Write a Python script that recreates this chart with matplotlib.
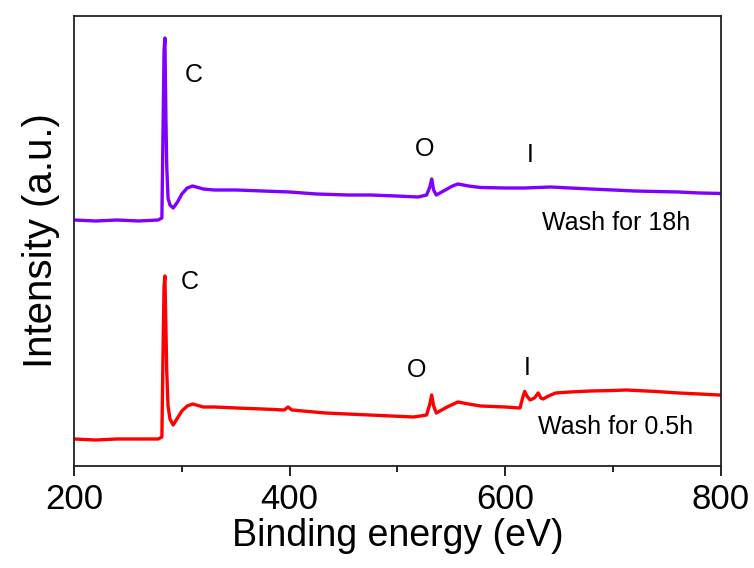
import matplotlib
matplotlib.use("Agg")
import matplotlib.pyplot as plt
from matplotlib.ticker import MultipleLocator

plt.rcParams['font.family'] = ['Liberation Sans', 'DejaVu Sans']

# Binding energy (eV) and stacked intensity (a.u.)
be_18h = [200, 220, 240, 260, 278, 281.5, 282.5, 283.5, 284.3, 285.2, 286.0, 287.2, 289, 292,
          296, 300, 305, 310, 320, 330, 351, 375, 400, 425, 454, 475, 499, 519, 527, 530,
          531.7, 533.5, 536, 541, 546, 551, 556, 566, 577, 600, 618, 642, 660, 679, 700,
          720, 740, 761, 780, 798, 800]
int_18h = [246, 245, 246, 245, 246, 248, 330, 415, 428, 350, 300, 268, 261, 258,
           264, 272, 278, 280, 277, 276, 276, 275, 274, 272, 271, 271, 270, 269, 271, 279,
           287, 276, 271, 274, 277, 280, 282, 280, 278.5, 278, 278, 279, 278, 277, 276,
           275, 274.5, 274, 273, 272.6, 272]

be_05h = [200, 220, 240, 260, 278, 281.5, 282.5, 283.5, 284.3, 285.2, 286.0, 287.2, 289, 292,
          296, 300, 305, 310, 320, 330, 351, 375, 395, 398.5, 402, 433, 474, 515, 527, 530,
          531.7, 533.5, 536, 546, 556, 566, 577, 600, 613.6, 616, 618, 620, 623, 627, 630.5,
          633, 635, 640, 646.6, 660, 679, 700, 712, 740, 761, 780, 798, 800]
int_05h = [27, 26, 27, 27, 27, 29, 110, 180, 190, 140, 95, 60, 47, 41,
           48, 55, 60, 62, 59, 59, 58, 57, 56, 59, 56, 53, 51, 49, 51, 62,
           71, 60, 53, 59, 64, 62, 60, 59, 58, 68, 74.6, 70, 66, 68, 73,
           68, 67, 70, 73, 74, 75, 75.5, 76, 74.5, 73, 72, 71, 71]

x_ticks = [200, 400, 600, 800]

fig = plt.figure(figsize=(7.54, 5.68), dpi=100)
ax = fig.add_axes([74/754, 1-466/568, 647/754, 450/568])

ax.plot(be_18h, int_18h, color='#8000FF', lw=2.4, solid_joinstyle='round')
ax.plot(be_05h, int_05h, color='#FF0000', lw=2.4, solid_joinstyle='round')

ax.set_xlim(200, 800)
ax.set_ylim(0, 450)
ax.set_xticks(x_ticks)
ax.xaxis.set_minor_locator(MultipleLocator(100))
ax.set_yticks([])
ax.tick_params(axis='x', which='major', direction='out', length=7, width=1.2,
               labelsize=25, pad=5)
ax.tick_params(axis='x', which='minor', direction='out', length=4, width=1.2)
for s in ax.spines.values():
    s.set_linewidth(1.3)
    s.set_color('#222222')

ax.set_xlabel('Binding energy (eV)', fontsize=27, labelpad=2)
ax.set_ylabel('Intensity (a.u.)', fontsize=29, labelpad=10)

tk = dict(fontsize=18, ha='center', va='center')
ax.text(311, 391, 'C', **tk)
ax.text(525.5, 317, 'O', **tk)
ax.text(623.5, 311, 'I', **tk)
ax.text(307, 184, 'C', **tk)
ax.text(517.8, 96, 'O', **tk)
ax.text(620.7, 98, 'I', **tk)
ax.text(703, 243, 'Wash for 18h', fontsize=18, ha='center', va='center')
ax.text(702, 39, 'Wash for 0.5h', fontsize=18, ha='center', va='center')

fig.savefig('out.png', dpi=100)
